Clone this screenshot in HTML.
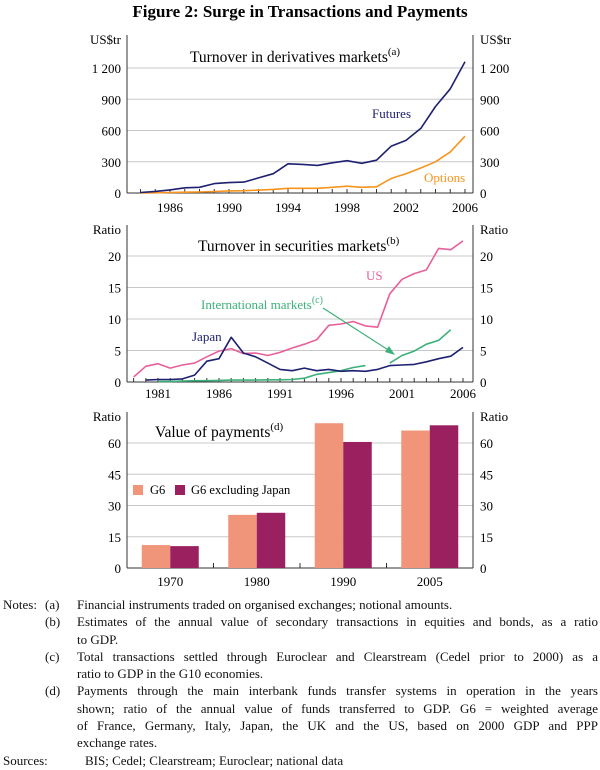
<!DOCTYPE html>
<html><head><meta charset="utf-8">
<style>
body{margin:0;background:#fff;width:600px;height:770px;overflow:hidden;font-family:"Liberation Serif",serif;}
svg text{font-family:"Liberation Serif",serif;}
.notes{position:absolute;left:0;top:596px;width:600px;font-size:13px;line-height:17.3px;color:#111;}
.row{display:flex}
.lab{width:45px;padding-left:3px;box-sizing:border-box}
.k{width:32px}
.t{width:521px}
.j{text-align:justify;text-align-last:justify}
</style></head><body>
<svg id="chart" width="600" height="592" style="position:absolute;left:0;top:0">
<text x="300" y="17" text-anchor="middle" font-size="17" font-weight="bold">Figure 2: Surge in Transactions and Payments</text>
<g id="p1"></g><g id="p2"></g><g id="p3"></g>
</svg>
<div class="notes">
<div class="row"><div class="lab">Notes:</div><div class="k">(a)</div><div class="t">Financial instruments traded on organised exchanges; notional amounts.</div></div>
<div class="row"><div class="lab"></div><div class="k">(b)</div><div class="t"><div class="j">Estimates of the annual value of secondary transactions in equities and bonds, as a ratio</div><div>to GDP.</div></div></div>
<div class="row"><div class="lab"></div><div class="k">(c)</div><div class="t"><div class="j">Total transactions settled through Euroclear and Clearstream (Cedel prior to 2000) as a</div><div>ratio to GDP in the G10 economies.</div></div></div>
<div class="row"><div class="lab"></div><div class="k">(d)</div><div class="t"><div class="j">Payments through the main interbank funds transfer systems in operation in the years</div><div class="j">shown; ratio of the annual value of funds transferred to GDP. G6 = weighted average</div><div class="j">of France, Germany, Italy, Japan, the UK and the US, based on 2000 GDP and PPP</div><div>exchange rates.</div></div></div>
<div class="row"><div class="lab" style="width:85px">Sources:</div><div>BIS; Cedel; Clearstream; Euroclear; national data</div></div>
</div>
<script>
const NS='http://www.w3.org/2000/svg';
// Panel 1 data
const p1Years=[1984,1985,1986,1987,1988,1989,1990,1991,1992,1993,1994,1995,1996,1997,1998,1999,2000,2001,2002,2003,2004,2005,2006];
const futures=[5,15,30,50,55,90,100,105,145,185,280,275,265,290,310,285,315,450,505,620,830,1000,1260];
const options=[0,2,5,8,10,14,20,22,28,35,45,45,45,55,65,55,60,140,185,240,300,395,545];
const p1Ticks=[0,300,600,900,1200];
const p1TickLabels=['0','300','600','900','1 200'];
const p1XLabels=[1986,1990,1994,1998,2002,2006];
// Panel 2 data
const p2Years=[1979,1980,1981,1982,1983,1984,1985,1986,1987,1988,1989,1990,1991,1992,1993,1994,1995,1996,1997,1998,1999,2000,2001,2002,2003,2004,2005,2006];
const us=[0.8,2.5,2.9,2.2,2.7,3.0,4.0,4.9,5.3,4.5,4.6,4.2,4.7,5.4,6.0,6.7,9.0,9.2,9.6,8.9,8.7,14,16.3,17.2,17.8,21.2,21.0,22.4];
const japan=[null,0.3,0.4,0.4,0.5,1.1,3.3,3.7,7.1,4.6,4.0,3.0,2.0,1.8,2.2,1.8,2.0,1.7,1.8,1.7,2.0,2.6,2.7,2.8,3.2,3.7,4.1,5.5];
const intl=[null,null,0.1,0.1,0.15,0.2,0.2,0.25,0.3,0.3,0.3,0.35,0.35,0.4,0.6,1.2,1.5,1.8,2.3,2.6,null,3.0,4.2,4.9,6.0,6.6,8.3,null];
const p2Ticks=[0,5,10,15,20];
const p2XLabels=[1981,1986,1991,1996,2001,2006];
// Panel 3 data
const p3Cats=['1970','1980','1990','2005'];
const g6=[11,25.5,69.5,66];
const g6exJ=[10.5,26.5,60.5,68.5];
const p3Ticks=[0,15,30,45,60];

function el(parent,tag,attrs,txt){const e=document.createElementNS(NS,tag);for(const k in attrs)e.setAttribute(k,attrs[k]);if(txt!=null)e.textContent=txt;parent.appendChild(e);return e;}
const L=127,R=473;

function frame(g,top,bot,yfn,ticks,labels,unit){
  ticks.forEach((t,i)=>{const y=yfn(t);
    if(t>0){const gl=el(g,'line',{x1:L,x2:R,y1:y,y2:y,stroke:'#c8c8c8','stroke-width':1});}
    const a=el(g,'text',{x:121,y:y+5,'text-anchor':'end','font-size':13},labels[i]);
    const b=el(g,'text',{x:480,y:y+5,'font-size':13},labels[i]);
  });
  const u1=el(g,'text',{x:121,y:top+9,'text-anchor':'end','font-size':13},unit);
  const u2=el(g,'text',{x:480,y:top+9,'font-size':13},unit);
  const la=el(g,'line',{x1:L,x2:L,y1:top,y2:bot,stroke:'#333','stroke-width':1});
  const ra=el(g,'line',{x1:R,x2:R,y1:top,y2:bot,stroke:'#333','stroke-width':1});
  const xa=el(g,'line',{x1:L,x2:R,y1:bot,y2:bot,stroke:'#333','stroke-width':1});
}
function title(g,x,y,txt,sup){
  const t=el(g,'text',{x:x,y:y,'font-size':15.5},txt);
  
  
  el(t,'tspan',{dy:-7,'font-size':11},sup);
}
function line(g,xs,vs,xf,yf,color,name){
  let d='',pen=false;
  vs.forEach((v,i)=>{if(v==null){pen=false;return;}d+=(pen?'L':'M')+xf(xs[i]).toFixed(1)+','+yf(v).toFixed(1);pen=true;});
  const p=el(g,'path',{d:d,fill:'none',stroke:color,'stroke-width':1.6,'stroke-linejoin':'round'});
  
}
// Panel 1
(function(){const g=document.getElementById('p1');const top=35,bot=193;
  const y=v=>bot-v*(125/1200);const x=yr=>170+(yr-1986)*14.75;
  frame(g,top,bot,y,p1Ticks,p1TickLabels,'US$tr');
  p1Years.forEach(yr=>{const t=el(g,'line',{x1:x(yr),x2:x(yr),y1:bot-4,y2:bot,stroke:'#333'});});
  p1XLabels.forEach(yr=>{const t=el(g,'text',{x:x(yr),y:212,'text-anchor':'middle','font-size':13},yr);});
  line(g,p1Years,options,x,y,'#f7941d','options-line');
  line(g,p1Years,futures,x,y,'#1e2070','futures-line');
  title(g,190,62,'Turnover in derivatives markets','(a)');
  let t=el(g,'text',{x:372,y:118,'font-size':13,fill:'#1e2070'},'Futures');
  t=el(g,'text',{x:424,y:182,'font-size':13,fill:'#f7941d'},'Options');
})();
// Panel 2
(function(){const g=document.getElementById('p2');const top=225,bot=382;
  const y=v=>bot-v*6.3;const x=yr=>158+(yr-1981)*12.2;
  frame(g,top,bot,y,p2Ticks,p2Ticks.map(String),'Ratio');
  p2Years.forEach(yr=>{const t=el(g,'line',{x1:x(yr),x2:x(yr),y1:bot-4,y2:bot,stroke:'#333'});});
  p2XLabels.forEach(yr=>{const t=el(g,'text',{x:x(yr),y:398,'text-anchor':'middle','font-size':13},yr);});
  line(g,p2Years,intl,x,y,'#3cb07a','international-line');
  line(g,p2Years,us,x,y,'#e8609a','us-line');
  line(g,p2Years,japan,x,y,'#1e2070','japan-line');
  title(g,198,251,'Turnover in securities markets','(b)');
  let t=el(g,'text',{x:366,y:280,'font-size':13,fill:'#e8609a'},'US');
  t=el(g,'text',{x:201,y:309,'font-size':13,fill:'#3cb07a'},'International markets');
  el(t,'tspan',{dy:-6,'font-size':10},'(c)');
  t=el(g,'text',{x:192,y:341,'font-size':13,fill:'#1e2070'},'Japan');
  const a=el(g,'line',{x1:323,y1:308,x2:393,y2:353,stroke:'#3cb07a','stroke-width':1.2});
  const h=el(g,'path',{d:'M395,355 L385,352 L389,346 Z',fill:'#3cb07a'});
})();
// Panel 3
(function(){const g=document.getElementById('p3');const top=412,bot=568;
  const y=v=>bot-v*(125/60);const cw=(R-L)/p3Cats.length;const cx=i=>L+cw*(i+0.5);const bw=28.5;
  frame(g,top,bot,y,p3Ticks,p3Ticks.map(String),'Ratio');
  p3Cats.forEach((c,i)=>{
    let r=el(g,'rect',{x:cx(i)-bw,y:y(g6[i]),width:bw,height:bot-y(g6[i]),fill:'#f0957a'});
    r=el(g,'rect',{x:cx(i),y:y(g6exJ[i]),width:bw,height:bot-y(g6exJ[i]),fill:'#9b2060'});
    const t=el(g,'text',{x:cx(i),y:586,'text-anchor':'middle','font-size':13},c);
    if(i>0){const k=el(g,'line',{x1:L+cw*i,x2:L+cw*i,y1:bot-5,y2:bot,stroke:'#333'});}
  });
  title(g,155,437,'Value of payments','(d)');
  let r=el(g,'rect',{x:133,y:485,width:10,height:10,fill:'#f0957a'});
  let t=el(g,'text',{x:150,y:494,'font-size':12.5},'G6');
  r=el(g,'rect',{x:175,y:485,width:10,height:10,fill:'#9b2060'});
  t=el(g,'text',{x:191,y:494,'font-size':12.5},'G6 excluding Japan');
})();
</script>
</body></html>
